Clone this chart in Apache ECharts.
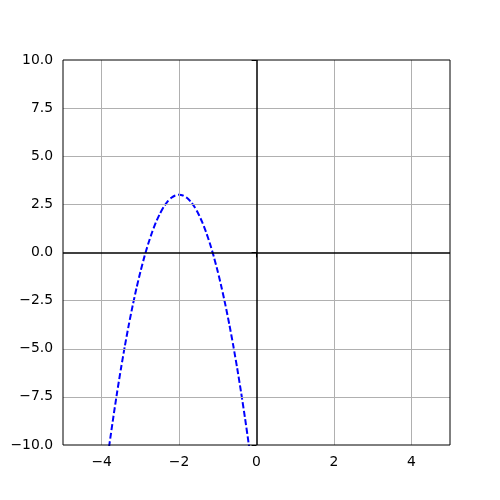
<!DOCTYPE html>
<html>
<head>
<meta charset="utf-8">
<script src="https://cdn.jsdelivr.net/npm/echarts@6/dist/echarts.min.js"></script>
<style>html,body{margin:0;padding:0;background:#fff;}#c{width:500px;height:500px;}</style>
</head>
<body>
<div id="c"></div>
<script>
// values
var xValues = [-3.9,-3.8,-3.7,-3.6,-3.5,-3.4,-3.3,-3.2,-3.1,-3.0,-2.9,-2.8,-2.7,-2.6,-2.5,-2.4,-2.3,-2.2,-2.1,-2.0,
               -1.9,-1.8,-1.7,-1.6,-1.5,-1.4,-1.3,-1.2,-1.1,-1.0,-0.9,-0.8,-0.7,-0.6,-0.5,-0.4,-0.3,-0.2,-0.1];
var yValues = [-11.44,-9.96,-8.56,-7.24,-6.0,-4.84,-3.76,-2.76,-1.84,-1.0,-0.24,0.44,1.04,1.56,2.0,2.36,2.64,2.84,2.96,3.0,
               2.96,2.84,2.64,2.36,2.0,1.56,1.04,0.44,-0.24,-1.0,-1.84,-2.76,-3.76,-4.84,-6.0,-7.24,-8.56,-9.96,-11.44];
var xTicks = [-4, -2, 0, 2, 4];
var yTicks = [-10, -7.5, -5, -2.5, 0, 2.5, 5, 7.5, 10];
var xRange = [-5, 5];
var yRange = [-10, 10];

function fmtMinus(s) { return String(s).replace('-', '\u2212'); }

var chart = echarts.init(document.getElementById('c'), null, {renderer: 'canvas'});
var font = 'DejaVu Sans';
var pts = xValues.map(function (x, i) { return [x, yValues[i]]; });

var gridLines = xTicks.filter(function (v) { return v !== 0; }).map(function (v) {
  return {xAxis: v, lineStyle: {color: '#b0b0b0', width: 1, type: 'solid'}};
});
yTicks.forEach(function (v) {
  if (v !== 0 && v !== yRange[0] && v !== yRange[1]) {
    gridLines.push({yAxis: v, lineStyle: {color: '#b0b0b0', width: 1, type: 'solid'}});
  }
});
var blackLines = [
  {xAxis: 0, lineStyle: {color: '#000000', width: 1.5, type: 'solid'}},
  {yAxis: 0, lineStyle: {color: '#000000', width: 1.5, type: 'solid'}}
];

chart.setOption({
  animation: false,
  backgroundColor: '#ffffff',
  grid: {left: 63, top: 60, width: 387, height: 385, show: true, borderColor: '#000', borderWidth: 1, backgroundColor: 'transparent', z: 10},
  xAxis: {
    type: 'value', min: xRange[0], max: xRange[1],
    axisLine: {show: false},
    axisTick: {show: true, inside: false, length: 4.9, lineStyle: {color: '#000', width: 1}, customValues: xTicks},
    axisLabel: {show: true, customValues: xTicks, margin: 10, color: '#000', fontFamily: font, fontSize: 13.9,
      formatter: function (v) { return fmtMinus(v); }},
    splitLine: {show: false}
  },
  yAxis: {
    type: 'value', min: yRange[0], max: yRange[1], interval: 2.5,
    axisLine: {show: false},
    axisTick: {show: true, inside: false, length: 4.9, lineStyle: {color: '#000', width: 1}},
    axisLabel: {show: true, margin: 10, color: '#000', fontFamily: font, fontSize: 13.9,
      formatter: function (v) { return fmtMinus(Number(v).toFixed(1)); }},
    splitLine: {show: false}
  },
  series: [
    {
      type: 'line', data: [], silent: true, z: 1,
      markLine: {silent: true, symbol: ['none', 'none'], label: {show: false}, animation: false, data: gridLines}
    },
    {
      type: 'line', data: [], silent: true, z: 2,
      markLine: {silent: true, symbol: ['none', 'none'], label: {show: false}, animation: false, data: blackLines}
    },
    {
      type: 'line', data: pts, showSymbol: false, clip: true, smooth: 0.2, z: 3,
      lineStyle: {color: '#0000ff', width: 2, type: [6, 2.6]}
    }
  ]
});
</script>
</body>
</html>
